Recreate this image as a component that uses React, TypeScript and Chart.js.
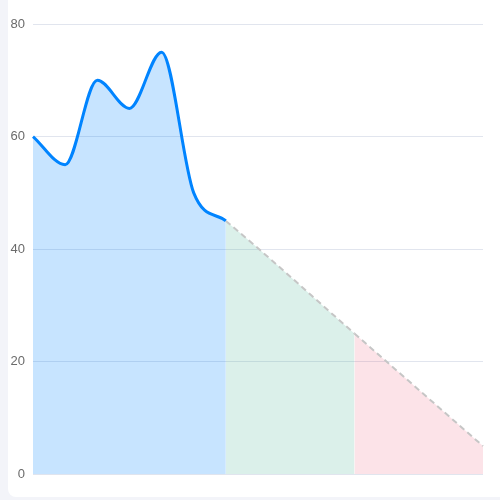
import React, { useEffect, useRef } from "react";
import { Chart, registerables } from "chart.js";

Chart.register(...registerables);

// Fifteen evenly spaced steps along the x axis (axis itself hidden).
const labels = ["0", "1", "2", "3", "4", "5", "6", "7", "8", "9", "10", "11", "12", "13", "14"];
// Measured values up to step 6, then projected anchors at steps 10 and 14.
const values: (number | null)[] = [60, 55, 70, 65, 75, 50, 45, null, null, null, 25, null, null, null, 5];
const yTicks = [0, 20, 40, 60, 80];
const lastActual = 6;
const midProjection = 10;

const LINE_BLUE = "rgb(0,132,255)";
const FILL_BLUE = "rgba(0,132,255,0.22)";
const FILL_GREEN = "rgba(75,180,150,0.2)";
const FILL_RED = "rgba(235,80,110,0.16)";
const DASH_GREY = "#c6c6c6";

export default function App() {
  const ref = useRef<HTMLCanvasElement | null>(null);

  useEffect(() => {
    if (!ref.current) return;
    const chart = new Chart(ref.current, {
      type: "line",
      data: {
        labels,
        datasets: [
          {
            data: values,
            borderColor: LINE_BLUE,
            backgroundColor: FILL_BLUE,
            borderWidth: 3,
            pointRadius: 0,
            fill: "origin",
            spanGaps: true,
            cubicInterpolationMode: "monotone",
            segment: {
              borderColor: (ctx: any) => (ctx.p0DataIndex >= lastActual ? DASH_GREY : LINE_BLUE),
              borderDash: (ctx: any) => (ctx.p0DataIndex >= lastActual ? [6, 4] : []),
              borderWidth: (ctx: any) => (ctx.p0DataIndex >= lastActual ? 2 : 3),
              backgroundColor: (ctx: any) =>
                ctx.p0DataIndex >= midProjection
                  ? FILL_RED
                  : ctx.p0DataIndex >= lastActual
                  ? FILL_GREEN
                  : FILL_BLUE,
            } as any,
          },
        ],
      },
      options: {
        animation: false,
        responsive: false,
        maintainAspectRatio: false,
        layout: { padding: { top: 24, right: 17, bottom: 15, left: 0 } },
        plugins: { legend: { display: false }, tooltip: { enabled: false } },
        scales: {
          x: { display: false },
          y: {
            min: 0,
            max: 80,
            afterBuildTicks: (scale: any) => {
              scale.ticks = yTicks.map((v) => ({ value: v }));
            },
            afterFit: (scale: any) => {
              scale.width = 25;
            },
            border: { display: false },
            grid: { color: "#e1e5ee", drawTicks: false },
            ticks: {
              padding: 8,
              color: "#6b6b6b",
              font: { size: 13, family: "'Liberation Sans', Arial, sans-serif" },
            },
          },
        },
      },
    });
    return () => chart.destroy();
  }, []);

  return (
    <div style={{ position: "fixed", inset: 0, background: "#f3f4f9" }}>
      <div
        style={{
          position: "absolute",
          left: 8,
          top: -10,
          width: 510,
          height: 507,
          background: "#fff",
          borderRadius: 8,
        }}
      />
      <canvas
        ref={ref}
        width={492}
        height={490}
        style={{ position: "absolute", left: 8, top: 0, width: 492, height: 490 }}
      />
    </div>
  );
}
